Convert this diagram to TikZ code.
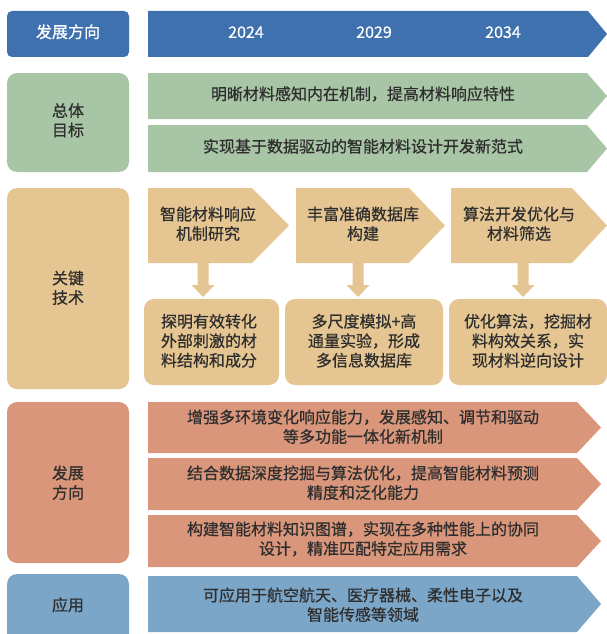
\documentclass[tikz,border=0pt]{standalone}
\usepackage{fontspec}
\setmainfont{Noto Sans CJK SC}[FakeBold=0.6]
\definecolor{hdr}{HTML}{3F71AE}
\definecolor{grn}{HTML}{A8C5A6}
\definecolor{tanc}{HTML}{E5C591}
\definecolor{sal}{HTML}{D9967A}
\definecolor{appc}{HTML}{7CA6C8}
\definecolor{ink}{HTML}{2E2E2E}
\newcommand{\sx}[1]{\begin{tabular}{@{}c@{}}#1\end{tabular}}
\begin{document}
\begin{tikzpicture}[x=1pt,y=-1pt,
  txt/.style={inner sep=0pt, text=ink, font=\fontsize{16}{19.5}\selectfont},
  wtxt/.style={txt, text=white},
  lbox/.style={rounded corners=10pt}]
\useasboundingbox (0,0) rectangle (607,634);
% ---------- header ----------
\fill[hdr, rounded corners=5pt] (7,11) rectangle (129,57);
\fill[hdr] (148,11) -- (588,11) -- (607,34) -- (588,57) -- (148,57) -- cycle;
\node[wtxt] (h0) at (68,34) {\sx{发展方向}};
\node[wtxt] (y1) at (246,34) {\sx{2024}};
\node[wtxt] (y2) at (374,34) {\sx{2029}};
\node[wtxt] (y3) at (503,34) {\sx{2034}};
% ---------- goals ----------
\fill[grn, lbox] (7,73) rectangle (129,172);
\fill[grn] (148,73) -- (587,73) -- (607,96) -- (587,119) -- (148,119) -- cycle;
\fill[grn] (148,125) -- (587,125) -- (607,148.5) -- (587,172) -- (148,172) -- cycle;
\node[txt] (g0) at (68,122.5) {\sx{总体\\目标}};
\node[txt] (g1) at (363,96) {\sx{明晰材料感知内在机制，提高材料响应特性}};
\node[txt] (g2) at (363,148.5) {\sx{实现基于数据驱动的智能材料设计开发新范式}};
% ---------- key technologies ----------
\fill[tanc, lbox] (7,188) rectangle (129,389);
\node[txt] (k0) at (68,290) {\sx{关键\\技术}};
\fill[tanc] (148,188) -- (252,188) -- (289,225.5) -- (252,263) -- (148,263) -- cycle;
\fill[tanc] (296,188) -- (409,188) -- (445,225.5) -- (409,263) -- (296,263) -- cycle;
\fill[tanc] (451,188) -- (572,188) -- (607,225.5) -- (572,263) -- (451,263) -- cycle;
\node[txt] (p1) at (208,226) {\sx{智能材料响应\\机制研究}};
\node[txt] (p2) at (363,226) {\sx{丰富准确数据库\\构建}};
\node[txt] (p3) at (519,226) {\sx{算法开发优化与\\材料筛选}};
\foreach \cx in {203,358,523}{
  \fill[tanc] (\cx-5.5,263) -- (\cx+5.5,263) -- (\cx+5.5,285) -- (\cx+11.5,285)
    -- (\cx,297) -- (\cx-11.5,285) -- (\cx-5.5,285) -- cycle;
}
\fill[tanc, lbox] (144,299) rectangle (279,385);
\fill[tanc, lbox] (285,299) rectangle (443,385);
\fill[tanc, lbox] (449,299) rectangle (607,385);
\node[txt] (b1) at (209,343) {\sx{探明有效转化\\外部刺激的材\\料结构和成分}};
\node[txt] (b2) at (364,343) {\sx{多尺度模拟+高\\通量实验，形成\\多信息数据库}};
\node[txt] (b3) at (528,343) {\sx{优化算法，挖掘材\\料构效关系，实\\现材料逆向设计}};
% ---------- development directions ----------
\fill[sal, lbox] (7,402) rectangle (129,563);
\node[txt] (d0) at (68,485) {\sx{发展\\方向}};
\fill[sal] (148,402) -- (577,402) -- (601,427.5) -- (577,453) -- (148,453) -- cycle;
\fill[sal] (148,458) -- (577,458) -- (601,484) -- (577,510) -- (148,510) -- cycle;
\fill[sal] (148,515) -- (577,515) -- (601,541) -- (577,567) -- (148,567) -- cycle;
\node[txt] (d1) at (363,429) {\sx{增强多环境变化响应能力，发展感知、调节和驱动\\等多功能一体化新机制}};
\node[txt] (d2) at (363,485) {\sx{结合数据深度挖掘与算法优化，提高智能材料预测\\精度和泛化能力}};
\node[txt] (d3) at (363,541) {\sx{构建智能材料知识图谱，实现在多种性能上的协同\\设计，精准匹配特定应用需求}};
% ---------- applications ----------
\fill[appc, lbox] (7,574) rectangle (129,650);
\node[txt] (a0) at (68,607) {\sx{应用}};
\fill[appc] (148,576) -- (577,576) -- (601,604) -- (577,632) -- (148,632) -- cycle;
\node[txt] (a1) at (363,607) {\sx{可应用于航空航天、医疗器械、柔性电子以及\\智能传感等领域}};
\end{tikzpicture}
\end{document}
